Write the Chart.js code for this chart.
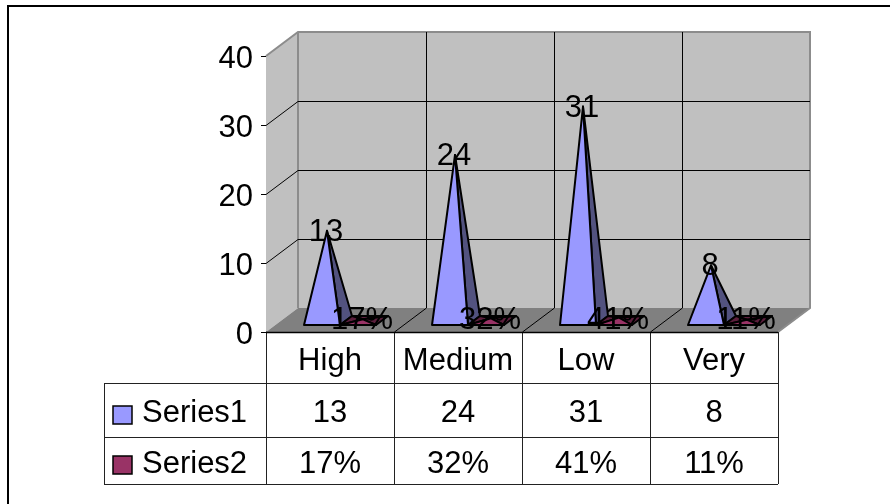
<!DOCTYPE html>
<html>
<head>
<meta charset="UTF-8">
<title>Pyramid chart</title>
<script src="https://cdn.jsdelivr.net/npm/chart.js"></script>
<style>
  html, body { margin: 0; background: #fff; }
  canvas { display: block; }
</style>
</head>
<body>
<canvas id="chart" width="890" height="504"></canvas>
<script>
const categories = ['High', 'Medium', 'Low', 'Very'];
const series1 = [13, 24, 31, 8];
const series2 = [0.17, 0.32, 0.41, 0.11];
const seriesNames = ['Series1', 'Series2'];
const series2Labels = ['17%', '32%', '41%', '11%'];
const yTicks = [0, 10, 20, 30, 40];

const FONT = '"Liberation Sans", Arial, sans-serif';
const FONT_SIZE = 31;
const depthX = 32, depthY = 24;
const faceColors = [['#9999ff', '#52527f'], ['#993366', '#5c1f3d']];

// walls and floor behind the pyramids
const walls = {
  id: 'walls',
  beforeDatasetsDraw(chart) {
    const { ctx, chartArea: a, scales: { x, y } } = chart;
    const poly = (pts, fill) => {
      ctx.beginPath();
      pts.forEach((p, i) => i ? ctx.lineTo(p[0], p[1]) : ctx.moveTo(p[0], p[1]));
      ctx.closePath();
      ctx.fillStyle = fill;
      ctx.fill();
    };
    const bx = a.left + depthX, by = a.bottom - depthY, tx = a.right + depthX, ty = a.top - depthY;
    ctx.save();
    poly([[a.left, a.top], [bx, ty], [bx, by], [a.left, a.bottom]], '#c0c0c0');
    poly([[bx, ty], [tx, ty], [tx, by], [bx, by]], '#c0c0c0');
    poly([[a.left, a.bottom], [bx, by], [tx, by], [a.right, a.bottom]], '#808080');

    // wall outline
    ctx.strokeStyle = '#8c8c8c';
    ctx.lineWidth = 2;
    ctx.beginPath();
    ctx.moveTo(a.left, a.top); ctx.lineTo(bx, ty); ctx.lineTo(tx, ty); ctx.lineTo(tx, by); ctx.lineTo(a.right, a.bottom);
    ctx.moveTo(bx, ty); ctx.lineTo(bx, by);
    ctx.stroke();

    // gridlines
    ctx.strokeStyle = '#000';
    ctx.lineWidth = 1;
    ctx.beginPath();
    yTicks.forEach(v => {
      if (v === 0 || v === 40) return;
      const py = Math.round(y.getPixelForValue(v)) + 0.5;
      ctx.moveTo(a.left, py); ctx.lineTo(bx, py - depthY);
      ctx.lineTo(tx, py - depthY);
    });
    const step = (a.right - a.left) / categories.length;
    categories.forEach((c, i) => {
      const px = Math.round(x.getPixelForValue(i) + step / 2) + 0.5;
      if (i < categories.length - 1) {
        ctx.moveTo(px, a.bottom); ctx.lineTo(px + depthX, by);
        ctx.moveTo(px + depthX, by); ctx.lineTo(px + depthX, ty);
      }
    });
    ctx.stroke();
    ctx.restore();
  }
};

// the bars themselves are drawn as pyramids, from the positions Chart.js gives them
const pyramids = {
  id: 'pyramids',
  afterDatasetsDraw(chart) {
    const { ctx } = chart;
    const y0 = chart.scales.y.getPixelForValue(0);
    ctx.save();
    ctx.lineJoin = 'round';
    ctx.lineWidth = 2;
    ctx.strokeStyle = '#000';
    chart.data.datasets.forEach((ds, d) => {
      chart.getDatasetMeta(d).data.forEach(bar => {
        const half = bar.width / 2;
        const fl = bar.x - half + 10, fr = bar.x + half + 10;
        const fy = y0 - 7, by = y0 - 16;
        const ax = bar.x + 15, ay = bar.y - 11.5;
        const tri = (pts, fill) => {
          ctx.beginPath();
          ctx.moveTo(pts[0][0], pts[0][1]);
          ctx.lineTo(pts[1][0], pts[1][1]);
          ctx.lineTo(pts[2][0], pts[2][1]);
          ctx.closePath();
          ctx.fillStyle = fill;
          ctx.fill();
          ctx.stroke();
        };
        if (d === 1) tri([[fl + 12, by], [fr + 12, by], [ax, ay]], faceColors[d][1]);
        tri([[fr, fy], [fr + 12, by], [ax, ay]], faceColors[d][1]);
        if (d === 1) tri([[fl, fy], [fl + 12, by], [ax, ay]], faceColors[d][1]);
        tri([[fl, fy], [fr, fy], [ax, ay]], faceColors[d][0]);
      });
    });

    // data labels
    ctx.fillStyle = '#000';
    ctx.font = FONT_SIZE + 'px ' + FONT;
    ctx.textAlign = 'center';
    ctx.textBaseline = 'middle';
    chart.getDatasetMeta(0).data.forEach((bar, i) => {
      ctx.fillText(series1[i], bar.x + 14, bar.y - 10);
    });
    chart.getDatasetMeta(1).data.forEach((bar, i) => {
      ctx.fillText(series2Labels[i], bar.x + 14, y0 - 12);
    });
    ctx.restore();
  }
};

// data table under the plot, with the legend keys in its first column
const dataTable = {
  id: 'dataTable',
  afterDraw(chart) {
    const { ctx, chartArea: a, scales: { x, y } } = chart;
    const rows = [383, 437, 484];
    const left = 104;
    const step = (a.right - a.left) / categories.length;
    ctx.save();
    // page frame
    ctx.fillStyle = '#000';
    ctx.fillRect(7, 5, 883, 2);
    ctx.fillRect(7, 5, 2, 499);
    ctx.strokeStyle = '#222';
    ctx.lineWidth = 1;
    ctx.beginPath();
    for (let i = 0; i <= categories.length; i++) {
      ctx.moveTo(a.left + step * i + 0.5, a.bottom);
      ctx.lineTo(a.left + step * i + 0.5, rows[2]);
    }
    ctx.moveTo(left, rows[0] + 0.5); ctx.lineTo(a.right, rows[0] + 0.5);
    ctx.moveTo(left, rows[1] + 0.5); ctx.lineTo(a.right, rows[1] + 0.5);
    ctx.moveTo(left, rows[2] + 0.5); ctx.lineTo(a.right, rows[2] + 0.5);
    ctx.moveTo(left + 0.5, rows[0]); ctx.lineTo(left + 0.5, rows[2]);
    ctx.stroke();
    ctx.strokeStyle = '#000';
    ctx.lineWidth = 1.5;
    ctx.beginPath();
    ctx.moveTo(a.left, a.bottom + 0.5); ctx.lineTo(a.right, a.bottom + 0.5);
    ctx.stroke();

    ctx.font = FONT_SIZE + 'px ' + FONT;
    ctx.textBaseline = 'middle';
    const rowMid = [413, 464];
    const rowText = [series1.map(String), series2Labels];
    const keyTop = [406, 456];
    seriesNames.forEach((name, r) => {
      ctx.fillStyle = faceColors[r][0];
      ctx.fillRect(113, keyTop[r], 19, 18);
      ctx.lineWidth = 1.5;
      ctx.strokeRect(113, keyTop[r], 19, 18);
      ctx.fillStyle = '#000';
      ctx.textAlign = 'left';
      ctx.fillText(name, 142, rowMid[r]);
      ctx.textAlign = 'center';
      rowText[r].forEach((t, i) => ctx.fillText(t, x.getPixelForValue(i), rowMid[r]));
    });

    // y tick labels sit a little below their ticks in the original
    ctx.fillStyle = '#000';
    ctx.textAlign = 'right';
    y.ticks.forEach(t => ctx.fillText(t.value, 253, y.getPixelForValue(t.value) + 3));
    ctx.restore();
  }
};

new Chart(document.getElementById('chart'), {
  type: 'bar',
  data: {
    labels: categories,
    datasets: [
      { label: seriesNames[0], data: series1, backgroundColor: 'transparent' },
      { label: seriesNames[1], data: series2, backgroundColor: 'transparent' }
    ]
  },
  options: {
    responsive: false,
    animation: false,
    events: [],
    categoryPercentage: 0.5625,
    barPercentage: 1,
    layout: { padding: { top: 56, right: 112, bottom: 0, left: 0 } },
    plugins: { legend: { display: false }, tooltip: { enabled: false } },
    scales: {
      x: {
        afterFit(scale) { scale.height = 172; },
        grid: { display: false, drawTicks: false },
        border: { display: false },
        ticks: { color: '#000', font: { size: FONT_SIZE, family: FONT }, padding: 11, maxRotation: 0, autoSkip: false }
      },
      y: {
        min: 0,
        max: 40,
        afterFit(scale) { scale.width = 266; },
        grid: { drawOnChartArea: false, tickLength: 5, color: '#000', tickColor: '#000' },
        border: { display: true, color: '#000' },
        ticks: { display: false, stepSize: 10 }
      }
    }
  },
  plugins: [walls, pyramids, dataTable]
});
</script>
</body>
</html>
